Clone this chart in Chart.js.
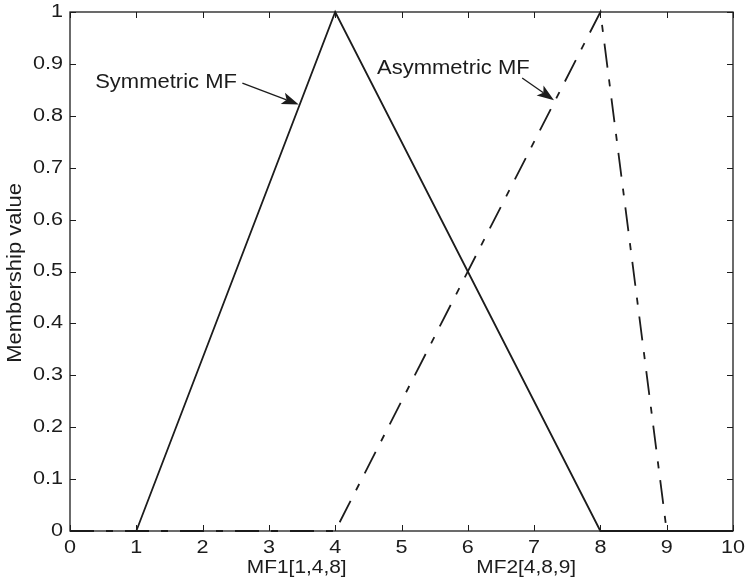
<!DOCTYPE html>
<html><head><meta charset="utf-8">
<script src="https://cdn.jsdelivr.net/npm/chart.js@4.4.0/dist/chart.umd.min.js"></script>
<style>html,body{margin:0;padding:0;background:#fff;}#wrap{width:746px;height:586px;}</style>
</head><body><div id="wrap"><canvas id="c" width="746" height="586"></canvas></div>
<script>
// ---- data ----
const xTicks = [0,1,2,3,4,5,6,7,8,9,10];
const yTicks = [0,0.1,0.2,0.3,0.4,0.5,0.6,0.7,0.8,0.9,1];
const symX = [1,4,8,10];
const symY = [0,1,0,0];
const asymX = [0,4,8,9,10];
const asymY = [0,0,1,0,0];
const yTitle = 'Membership value';
const bottomLabels = ['MF1[1,4,8]','MF2[4,8,9]'];
const bottomLabelX = [3.42,6.88];
const noteTexts = ['Symmetric MF','Asymmetric MF'];
const noteX = [0.38,4.63];
const noteY = [0.8536,0.8805];
const arrowFromX = [2.6,6.82];
const arrowFromY = [0.863,0.873];
const arrowToX = [3.45,7.3];
const arrowToY = [0.822,0.83];

const FONT = '"Liberation Sans", Arial, Helvetica, sans-serif';
const INK = '#1c1c1c';

function pts(xs, ys){ return xs.map((x,i)=>({x:x,y:ys[i]})); }

function txt(ctx, t, x, y, size, stretch, align, base){
  ctx.save();
  ctx.font = size + 'px ' + FONT;
  ctx.textAlign = align; ctx.textBaseline = base;
  ctx.translate(x, y);
  ctx.scale(stretch, 1);
  ctx.fillText(t, 0, 0);
  ctx.restore();
}

const deco = {
  id:'deco',
  afterDraw(chart){
    const ctx = chart.ctx, a = chart.chartArea;
    const sx = chart.scales.x, sy = chart.scales.y;
    ctx.save();
    ctx.strokeStyle = INK; ctx.lineWidth = 1.3;
    ctx.strokeRect(a.left, a.top, a.right-a.left, a.bottom-a.top);
    ctx.lineWidth = 1;
    ctx.beginPath();
    xTicks.forEach(v=>{
      const p = Math.round(sx.getPixelForValue(v))+0.5;
      ctx.moveTo(p,a.bottom); ctx.lineTo(p,a.bottom-6);
      ctx.moveTo(p,a.top); ctx.lineTo(p,a.top+6);
    });
    yTicks.forEach(v=>{
      const p = Math.round(sy.getPixelForValue(v))+0.5;
      ctx.moveTo(a.left,p); ctx.lineTo(a.left+6,p);
      ctx.moveTo(a.right,p); ctx.lineTo(a.right-6,p);
    });
    ctx.stroke();
    ctx.fillStyle = INK;
    // tick labels
    xTicks.forEach(v=>{
      txt(ctx, String(v), sx.getPixelForValue(v), a.bottom + 17, 18, 1.2, 'center', 'middle');
    });
    yTicks.forEach(v=>{
      txt(ctx, String(Number(v.toFixed(1))), a.left - 7, sy.getPixelForValue(v), 18, 1.2, 'right', 'middle');
    });
    // y title
    ctx.save();
    ctx.translate(15, 273);
    ctx.rotate(-Math.PI/2);
    txt(ctx, yTitle, 0, 0, 20, 1.1, 'center', 'middle');
    ctx.restore();
    // bottom labels
    bottomLabels.forEach((t,i)=>{
      txt(ctx, t, sx.getPixelForValue(bottomLabelX[i]), a.bottom + 37, 18, 1.16, 'center', 'middle');
    });
    // notes
    noteTexts.forEach((t,i)=>{
      txt(ctx, t, sx.getPixelForValue(noteX[i]), sy.getPixelForValue(noteY[i]), 20, 1.1, 'left', 'alphabetic');
    });
    // arrows
    noteTexts.forEach((t,i)=>{
      const x0 = sx.getPixelForValue(arrowFromX[i]), y0 = sy.getPixelForValue(arrowFromY[i]);
      const x1 = sx.getPixelForValue(arrowToX[i]), y1 = sy.getPixelForValue(arrowToY[i]);
      const ang = Math.atan2(y1-y0, x1-x0);
      const L = 17, W = 6;
      const bx = x1 - L*Math.cos(ang), by = y1 - L*Math.sin(ang);
      ctx.lineWidth = 1.3;
      ctx.beginPath(); ctx.moveTo(x0,y0); ctx.lineTo(bx + 4*Math.cos(ang), by + 4*Math.sin(ang)); ctx.stroke();
      ctx.beginPath();
      ctx.moveTo(x1,y1);
      ctx.lineTo(bx - W*Math.sin(ang), by + W*Math.cos(ang));
      ctx.lineTo(bx + 4*Math.cos(ang), by + 4*Math.sin(ang));
      ctx.lineTo(bx + W*Math.sin(ang), by - W*Math.cos(ang));
      ctx.closePath(); ctx.fill();
    });
    ctx.restore();
  }
};

new Chart(document.getElementById('c'), {
  type:'scatter',
  data:{datasets:[
    {data:pts(symX,symY), showLine:true, borderColor:INK, borderWidth:1.8, pointRadius:0, tension:0, clip:3},
    {data:pts(asymX,asymY), showLine:true, borderColor:INK, borderWidth:1.8, pointRadius:0, tension:0, clip:3, borderDash:[24,12,7,12]}
  ]},
  options:{
    responsive:false, animation:false, devicePixelRatio:1,
    layout:{padding:{top:12,right:13,left:0,bottom:0}},
    plugins:{legend:{display:false}, tooltip:{enabled:false}},
    scales:{
      x:{type:'linear', min:0, max:10,
        grid:{display:false}, border:{display:false},
        ticks:{display:false},
        afterFit:s=>{ s.height = 55; }
      },
      y:{type:'linear', min:0, max:1,
        grid:{display:false}, border:{display:false},
        ticks:{display:false},
        afterFit:s=>{ s.width = 70; }
      }
    }
  },
  plugins:[deco]
});
</script></body></html>
